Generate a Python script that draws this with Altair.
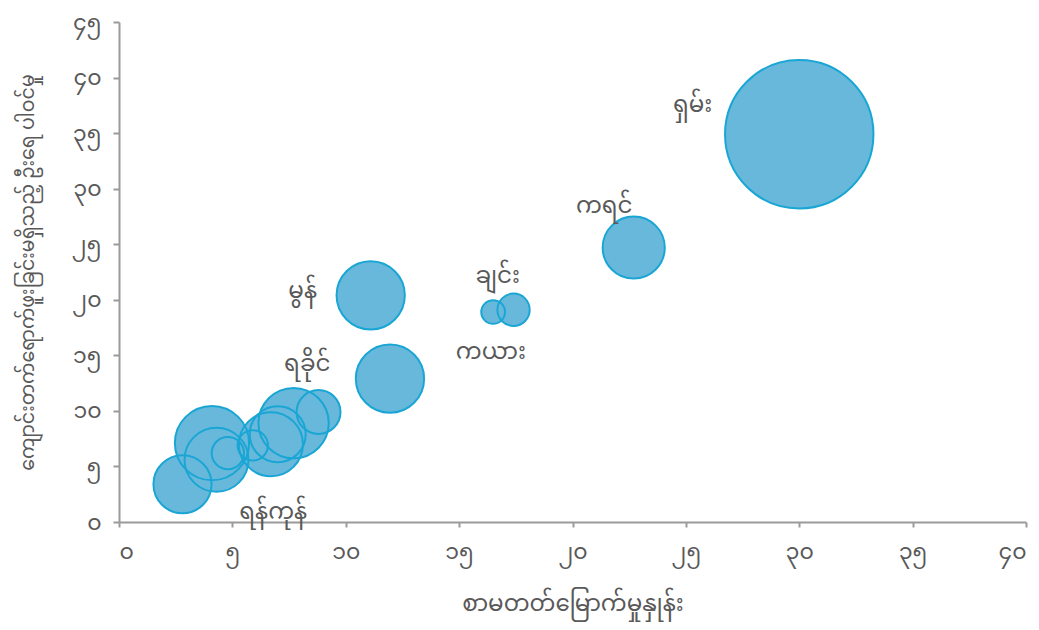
import altair as alt
import pandas as pd

# Bubble data (illiteracy rate, share never attended school, bubble size)
bubble_x = [30.0, 22.7, 16.5, 17.4, 11.1, 11.95, 2.8, 4.1, 4.3, 4.8, 5.9, 6.7, 7.7, 7.0, 8.8]
bubble_y = [34.9, 24.7, 18.9, 19.1, 20.4, 12.9, 3.4, 7.1, 5.6, 6.2, 6.9, 7.0, 8.9, 7.9, 9.9]
bubble_size = [54.8, 9.6, 1.4, 2.6, 11.6, 11.6, 8.4, 13.7, 10.2, 2.6, 2.3, 10.2, 12.3, 7.8, 4.8]

# Labels
label_text = ["ရှမ်း", "ကရင်", "ချင်း", "ကယား", "မွန်", "ရခိုင်", "ရန်ကုန်"]
label_x = [25.3, 21.4, 16.7, 16.4, 8.1, 8.3, 6.8]
label_y = [37.5, 28.4, 22.1, 15.3, 20.8, 14.2, 0.9]

# Axis ticks
x_ticks = [0, 5, 10, 15, 20, 25, 30, 35, 40]
x_tick_labels = ["၀", "၅", "၁၀", "၁၅", "၂၀", "၂၅", "၃၀", "၃၅", "၄၀"]
y_ticks = [0, 5, 10, 15, 20, 25, 30, 35, 40, 45]
y_tick_labels = ["၀", "၅", "၁၀", "၁၅", "၂၀", "၂၅", "၃၀", "၃၅", "၄၀", "၄၅"]

x_title = "စာမတတ်မြောက်မှုနှုန်း"
y_title = "ကျောင်းတက်ရောက်ဖူးခြင်းမရှိသည့် ဦးရေ ပါဝင်မှု"

FONT = "Noto Sans Myanmar, Myanmar Text, Padauk, Noto Sans, sans-serif"
TXT = "#595959"
AX = "#9a9a9a"


def label_expr(vals, labs):
    expr = "''"
    for v, l in reversed(list(zip(vals, labs))):
        expr = f"datum.value == {v} ? '{l}' : ({expr})"
    return expr


df = pd.DataFrame({"x": bubble_x, "y": bubble_y, "s": bubble_size})
ldf = pd.DataFrame({"x": label_x, "y": label_y, "t": label_text})

W, H = 907, 500
R = 74.2
xs = alt.Scale(domain=[0, 40], nice=False)
ys = alt.Scale(domain=[0, 45], nice=False)
ss = alt.Scale(domain=[0, 54.8], range=[0, 4 * R * R], zero=True)

xaxis = alt.Axis(values=x_ticks, labelExpr=label_expr(x_ticks, x_tick_labels), grid=False,
                 domainColor=AX, domainWidth=2, tickColor=AX, tickWidth=2, tickSize=5,
                 labelColor=TXT, labelFont=FONT, labelFontSize=22, labelPadding=14,
                 title=x_title, titleColor=TXT, titleFont=FONT, titleFontSize=23,
                 titleFontWeight="normal", titlePadding=30)
yaxis = alt.Axis(values=y_ticks, labelExpr=label_expr(y_ticks, y_tick_labels), grid=False,
                 domainColor=AX, domainWidth=2, tickColor=AX, tickWidth=2, tickSize=6,
                 labelColor=TXT, labelFont=FONT, labelFontSize=22, labelPadding=12,
                 title=y_title, titleColor=TXT, titleFont=FONT, titleFontSize=19,
                 titleFontWeight="normal", titlePadding=34)

fills = alt.Chart(df).mark_circle(color="#68b8dc", opacity=1).encode(
    x=alt.X("x:Q", scale=xs, axis=xaxis),
    y=alt.Y("y:Q", scale=ys, axis=yaxis),
    size=alt.Size("s:Q", scale=ss, legend=None),
)
strokes = alt.Chart(df).mark_point(shape="circle", filled=False, color="#1aa6d4",
                                   strokeWidth=2, opacity=1).encode(
    x=alt.X("x:Q", scale=xs),
    y=alt.Y("y:Q", scale=ys),
    size=alt.Size("s:Q", scale=ss, legend=None),
)
labels = alt.Chart(ldf).mark_text(font=FONT, fontSize=23, color=TXT).encode(
    x=alt.X("x:Q", scale=xs),
    y=alt.Y("y:Q", scale=ys),
    text="t:N",
)

chart = alt.layer(fills, strokes, labels).properties(
    width=W, height=H,
    autosize=alt.AutoSizeParams(type="none"),
    padding={"left": 111, "top": 14, "right": 5, "bottom": 115},
).configure_view(stroke=None)

chart.save("out.html", embed_options={"renderer": "svg", "actions": False})
